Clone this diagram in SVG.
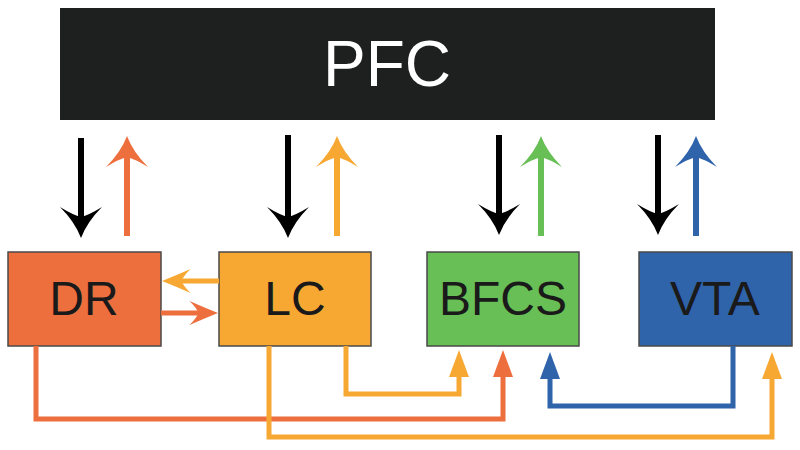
<svg xmlns="http://www.w3.org/2000/svg" width="800" height="450" viewBox="0 0 800 450">
<style>
.box{stroke:#4a4a4a;stroke-width:1.5}
.lbl{font-family:"Liberation Sans",Arial,sans-serif;font-size:48px;fill:#1a1a1a;text-anchor:middle}
.ln{fill:none;stroke-width:5}
</style>
<defs>
<path id="st" d="M0,0 Q-6,-16 -21,-31 Q-8,-23 0,-21 Q8,-23 21,-31 Q6,-16 0,0 Z"/>
<path id="sm" d="M0,0 Q-4,-10 -8,-19 Q-3,-14 0,-13 Q3,-14 8,-19 Q4,-10 0,0 Z" transform="scale(1.5)"/>
<path id="tri" d="M0,0 L10,27 L-10,27 Z"/>
</defs>
<rect width="800" height="450" fill="#ffffff"/>
<g id="PFC">
<rect x="60" y="8" width="655" height="112" fill="#1e1f1f"/>
<text x="387" y="86" font-family="&quot;Liberation Sans&quot;,Arial,sans-serif" font-size="64" fill="#ffffff" text-anchor="middle">PFC</text>
</g>
<g id="DR"><rect class="box" x="8" y="252" width="153" height="94" fill="#ee6f3e"/><text class="lbl" x="84" y="315">DR</text></g>
<g id="LC"><rect class="box" x="219" y="252" width="152" height="94" fill="#f7a833"/><text class="lbl" x="295" y="315">LC</text></g>
<g id="BFCS"><rect class="box" x="427" y="252" width="152" height="94" fill="#67bf55"/><text class="lbl" x="503" y="315">BFCS</text></g>
<g id="VTA"><rect class="box" x="639" y="252" width="153" height="94" fill="#2f63aa"/><text class="lbl" x="715" y="315">VTA</text></g>
<g id="connectors">
<g stroke-width="6" fill="none">
<line x1="81" y1="138" x2="81" y2="220" stroke="#000"/>
<line x1="127" y1="236" x2="127" y2="155" stroke="#ee6f3e"/>
<line x1="288" y1="135" x2="288" y2="220" stroke="#000"/>
<line x1="337" y1="236" x2="337" y2="155" stroke="#f7a833"/>
<line x1="499" y1="135" x2="499" y2="218" stroke="#000"/>
<line x1="541" y1="236" x2="541" y2="155" stroke="#67bf55"/>
<line x1="658" y1="135" x2="658" y2="218" stroke="#000"/>
<line x1="696" y1="236" x2="696" y2="155" stroke="#2f63aa"/>
</g>
<use href="#st" transform="translate(81,238)" fill="#000"/>
<use href="#st" transform="translate(127,136) rotate(180)" fill="#ee6f3e"/>
<use href="#st" transform="translate(288,238)" fill="#000"/>
<use href="#st" transform="translate(337,136) rotate(180)" fill="#f7a833"/>
<use href="#st" transform="translate(499,235)" fill="#000"/>
<use href="#st" transform="translate(541,136) rotate(180)" fill="#67bf55"/>
<use href="#st" transform="translate(658,235)" fill="#000"/>
<use href="#st" transform="translate(696,136) rotate(180)" fill="#2f63aa"/>
<line x1="219" y1="281" x2="172" y2="281" stroke="#f7a833" stroke-width="5"/>
<use href="#sm" transform="translate(162,281) rotate(90)" fill="#f7a833"/>
<line x1="161" y1="313" x2="208" y2="313" stroke="#ee6f3e" stroke-width="5"/>
<use href="#sm" transform="translate(218,313) rotate(-90)" fill="#ee6f3e"/>
<polyline class="ln" points="36,346 36,419 503,419 503,374" stroke="#ee6f3e"/>
<use href="#tri" transform="translate(503,350)" fill="#ee6f3e"/>
<polyline class="ln" points="346,346 346,394 459,394 459,374" stroke="#f7a833"/>
<use href="#tri" transform="translate(459,350)" fill="#f7a833"/>
<polyline class="ln" points="269,346 269,437 772,437 772,376" stroke="#f7a833"/>
<use href="#tri" transform="translate(772,352)" fill="#f7a833"/>
<polyline class="ln" points="733,346 733,406 550,406 550,376" stroke="#2f63aa"/>
<use href="#tri" transform="translate(550,352)" fill="#2f63aa"/>
</g>
</svg>
